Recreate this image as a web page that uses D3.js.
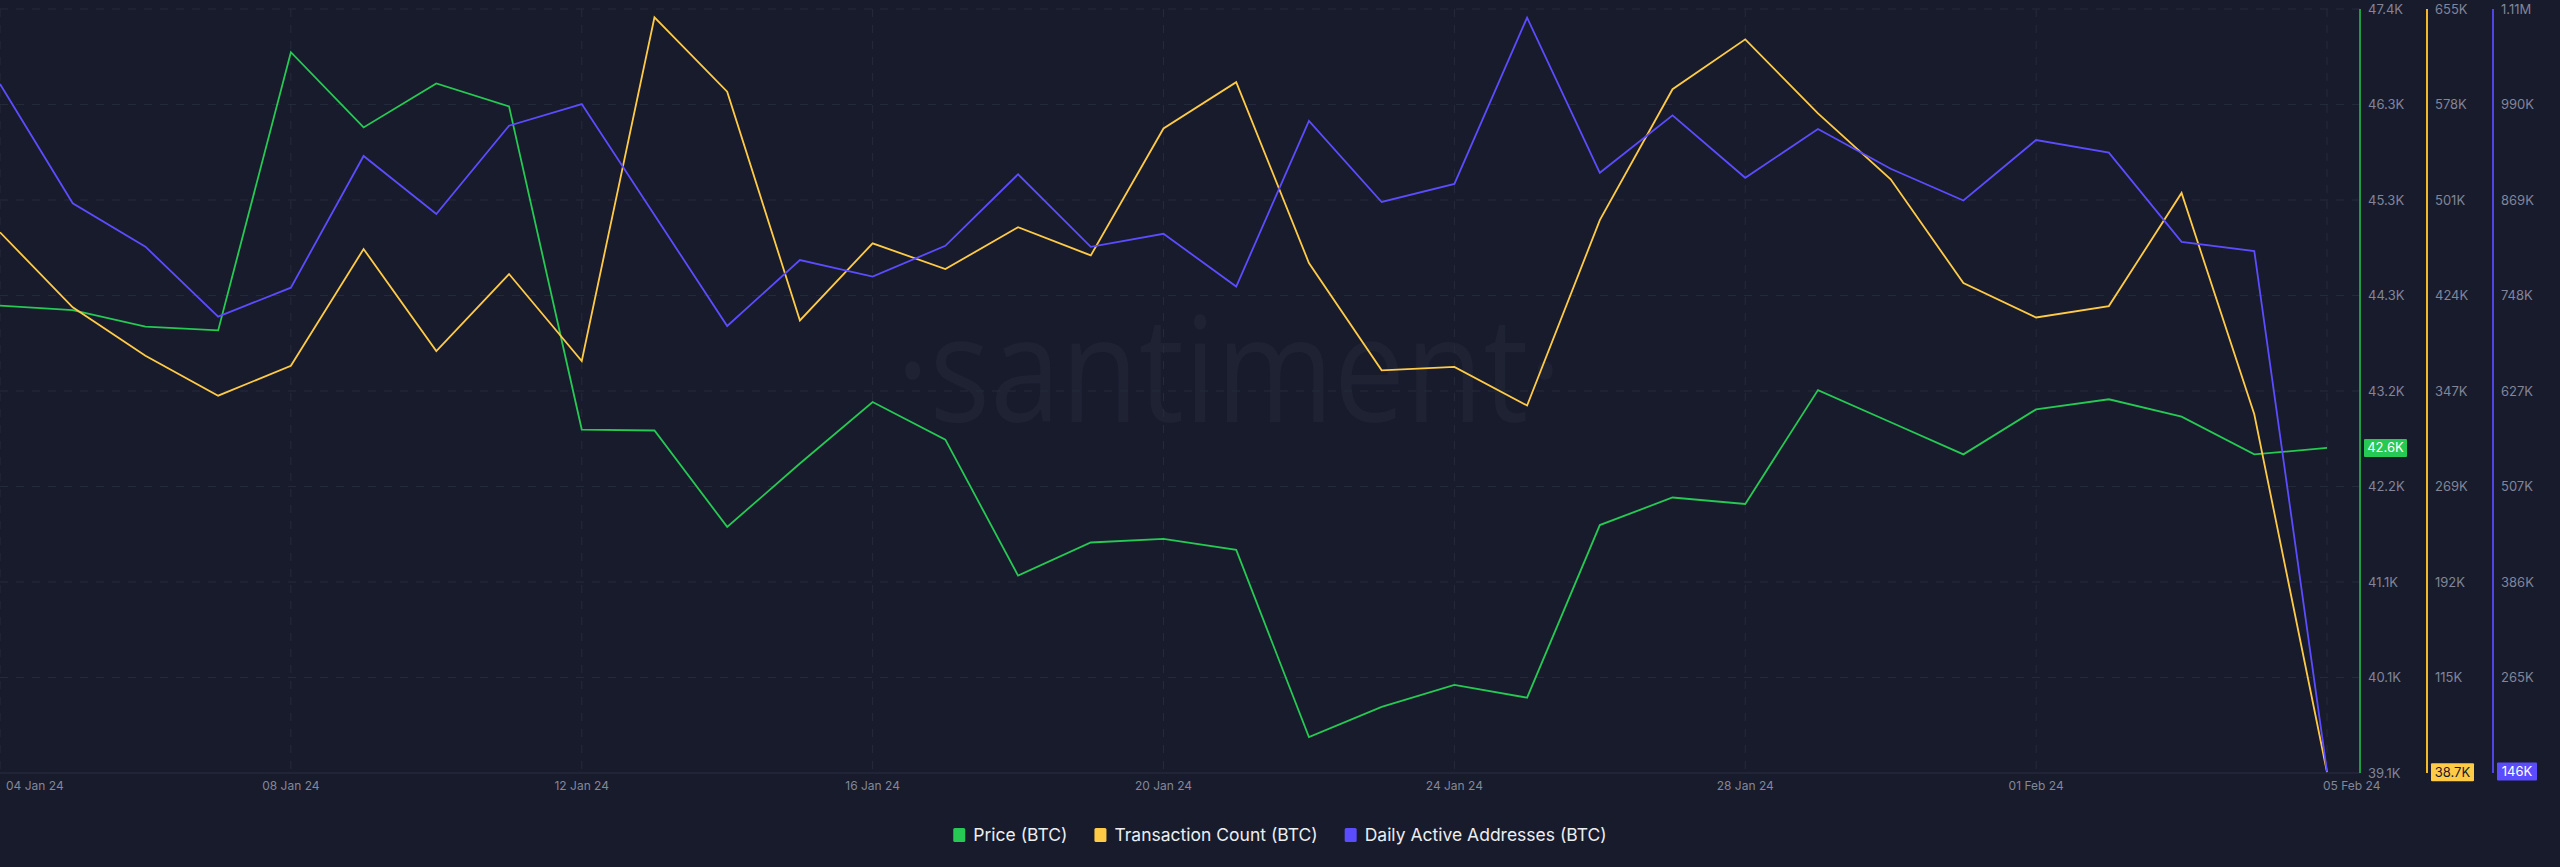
<!DOCTYPE html>
<html>
<head>
<meta charset="utf-8">
<script src="https://cdn.jsdelivr.net/npm/d3@7"></script>
<style>
  html, body { margin: 0; padding: 0; background: #181b2b; }
  #chart { width: 2560px; height: 867px; }
  text { font-family: Inter, "Noto Sans", sans-serif; }
</style>
</head>
<body>
<div id="chart"></div>
<script>
const WIDTH = 2560;
const HEIGHT = 867;

const startDay = new Date(2024, 0, 4);
const endDay = new Date(2024, 1, 5);

// one value per day, 04 Jan 24 .. 05 Feb 24
const price = [44150, 44100, 43920, 43880, 46910, 46090, 46570, 46320, 42800, 42790,
    41740, 42430, 43100, 42690, 41210, 41570, 41610, 41490, 39450, 39780,
    40020, 39880, 41760, 42060, 41990, 43230, 42880, 42530, 43020, 43130,
    42940, 42530, 42600];
const txCount = [474800, 414200, 375100, 342800, 367000, 461300, 378900, 441100, 370800, 648500,
    588400, 403600, 465900, 445100, 478900, 456100, 558700, 596100, 450000, 363300,
    366100, 334900, 484600, 590400, 630700, 570900, 517600, 433800, 406000, 415200,
    506600, 327800, 38700];
const activeAddr = [1015700, 864800, 809900, 721400, 758100, 924700, 851300, 963000, 990400, 850000,
    709600, 793100, 772100, 811100, 901500, 809700, 826300, 759500, 969100, 866500,
    889400, 1099700, 903400, 976000, 897100, 958800, 908500, 868400, 944900, 929000,
    816100, 804500, 146000];

const dateTicks = ["2024-01-04", "2024-01-08", "2024-01-12", "2024-01-16", "2024-01-20",
    "2024-01-24", "2024-01-28", "2024-02-01", "2024-02-05"];
const dateLabels = ["04 Jan 24", "08 Jan 24", "12 Jan 24", "16 Jan 24", "20 Jan 24",
    "24 Jan 24", "28 Jan 24", "01 Feb 24", "05 Feb 24"];

const priceDomain = [39060, 47380];
const priceLabels = ["39.1K", "40.1K", "41.1K", "42.2K", "43.2K", "44.3K", "45.3K", "46.3K", "47.4K"];
const txDomain = [38000, 655200];
const txLabels = ["", "115K", "192K", "269K", "347K", "424K", "501K", "578K", "655K"];
const addrDomain = [144200, 1110600];
const addrLabels = ["", "265K", "386K", "507K", "627K", "748K", "869K", "990K", "1.11M"];

const seriesNames = ["Price (BTC)", "Transaction Count (BTC)", "Daily Active Addresses (BTC)"];
const seriesColors = ["#26c953", "#ffcb47", "#5b4cff"];
const axisColors = ["#1f9c46", "#f2b928", "#5144e6"];
const lastLabels = ["42.6K", "38.7K", "146K"];

const PLOT = { left: 0, right: 2360, top: 9, bottom: 773 };

const days = d3.timeDay.range(startDay, d3.timeDay.offset(endDay, 1));

const svg = d3.select("#chart")
    .append("svg")
    .attr("width", WIDTH)
    .attr("height", HEIGHT);

svg.append("rect").attr("width", WIDTH).attr("height", HEIGHT).attr("fill", "#181b2b");

const x = d3.scaleTime().domain([startDay, endDay]).range([0, 2327]);

const yScales = [
    d3.scaleLinear().domain(priceDomain).range([PLOT.bottom, PLOT.top]),
    d3.scaleLinear().domain(txDomain).range([PLOT.bottom, PLOT.top]),
    d3.scaleLinear().domain(addrDomain).range([PLOT.bottom, PLOT.top])
];
const tickLabelSets = [priceLabels, txLabels, addrLabels];

// evenly spaced tick values for each scale
function evenTicks(scale) {
    const [a, b] = scale.domain();
    return d3.range(9).map((i) => a + (i * (b - a)) / 8);
}

// watermark
svg.append("text")
    .attr("x", 1229)
    .attr("y", 422)
    .attr("text-anchor", "middle")
    .attr("textLength", 666)
    .attr("lengthAdjust", "spacingAndGlyphs")
    .style("font-family", "'Open Sans', sans-serif")
    .style("font-weight", 400)
    .style("font-size", "146px")
    .style("fill", "#1e2233")
    .text("·santiment·");

// grid
const grid = svg.append("g").attr("class", "grid");
grid.selectAll("line.h")
    .data(evenTicks(yScales[0]).slice(1))
    .join("line")
    .attr("class", "h")
    .attr("x1", PLOT.left)
    .attr("x2", PLOT.right)
    .attr("y1", (d) => yScales[0](d))
    .attr("y2", (d) => yScales[0](d))
    .attr("stroke", "#252a3b")
    .attr("stroke-dasharray", "8,8");

grid.selectAll("line.v")
    .data(dateTicks.map((d) => d3.timeParse("%Y-%m-%d")(d)))
    .join("line")
    .attr("class", "v")
    .attr("x1", (d) => x(d))
    .attr("x2", (d) => x(d))
    .attr("y1", PLOT.top)
    .attr("y2", PLOT.bottom)
    .attr("stroke", "#252a3b")
    .attr("stroke-dasharray", "8,8");

// bottom axis line
svg.append("line")
    .attr("x1", PLOT.left)
    .attr("x2", PLOT.right)
    .attr("y1", PLOT.bottom)
    .attr("y2", PLOT.bottom)
    .attr("stroke", "#2a2f42");

// x labels
svg.append("g")
    .selectAll("text")
    .data(dateTicks)
    .join("text")
    .attr("x", (d, i) => {
        const px = x(d3.timeParse("%Y-%m-%d")(d));
        if (i === 0) return px + 6;
        if (i === dateTicks.length - 1) return px - 4;
        return px;
    })
    .attr("y", 790)
    .attr("text-anchor", (d, i) => (i === 0 || i === dateTicks.length - 1 ? "start" : "middle"))
    .style("font-size", "12px")
    .style("fill", "#828799")
    .text((d, i) => dateLabels[i]);

// lines
const seriesData = [price, txCount, activeAddr];
seriesData.forEach((values, s) => {
    const line = d3.line()
        .x((d, i) => x(days[i]))
        .y((d) => yScales[s](d));
    svg.append("path")
        .datum(values)
        .attr("d", line)
        .attr("fill", "none")
        .attr("stroke", seriesColors[s])
        .attr("stroke-width", 1.8)
        .attr("stroke-linejoin", "miter");
});

// right axes
const axisX = [2360, 2427, 2493];
yScales.forEach((scale, s) => {
    const g = svg.append("g")
        .attr("class", "y-axis")
        .attr("transform", `translate(${axisX[s]},0)`)
        .call(d3.axisRight(scale)
            .tickValues(evenTicks(scale))
            .tickSize(0)
            .tickPadding(8)
            .tickFormat((d, i) => tickLabelSets[s][i]));
    g.select(".domain").remove();
    g.selectAll("text")
        .style("font-family", "Inter, 'Noto Sans', sans-serif")
        .style("font-size", "13px")
        .attr("fill", "#80859a");
    g.append("line")
        .attr("y1", PLOT.top)
        .attr("y2", PLOT.bottom)
        .attr("stroke", axisColors[s])
        .attr("stroke-width", 2);

    // last value badge
    const last = seriesData[s][seriesData[s].length - 1];
    const cy = scale(last);
    const badge = g.append("g").attr("transform", `translate(4,${cy})`);
    const bw = s === 2 ? 40 : 43;
    badge.append("rect")
        .attr("x", 0)
        .attr("y", -9)
        .attr("width", bw)
        .attr("height", 18)
        .attr("rx", 1)
        .attr("fill", seriesColors[s]);
    badge.append("text")
        .attr("x", bw / 2)
        .attr("y", 0)
        .attr("dy", "0.35em")
        .attr("text-anchor", "middle")
        .style("font-size", "13px")
        .style("fill", s === 1 ? "#181b2b" : "#ffffff")
        .text(lastLabels[s]);
});

// legend
const legend = svg.append("g").attr("class", "legend");
let lx = 0;
seriesNames.forEach((name, i) => {
    const item = legend.append("g");
    item.append("rect")
        .attr("x", 0)
        .attr("y", -7)
        .attr("width", 12)
        .attr("height", 14)
        .attr("rx", 1.5)
        .attr("fill", seriesColors[i]);
    const t = item.append("text")
        .attr("x", 20)
        .attr("y", 0)
        .attr("dy", "0.35em")
        .style("font-size", "17.5px")
        .style("fill", "#eceef2")
        .text(name);
    const w = 20 + t.node().getComputedTextLength();
    item.attr("transform", `translate(${lx},0)`);
    lx += w + 27;
});
const legendWidth = lx - 27;
legend.attr("transform", `translate(${(WIDTH - legendWidth) / 2},835)`);
</script>
</body>
</html>
